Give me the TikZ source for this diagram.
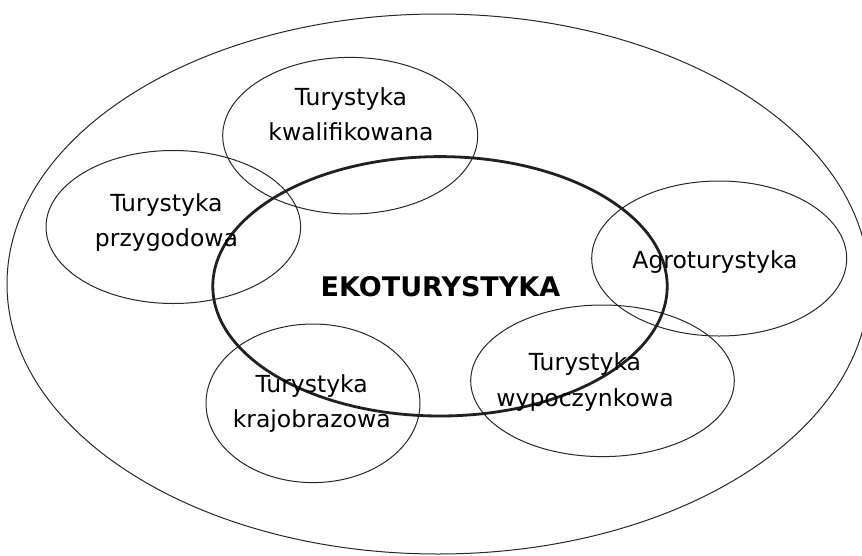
\documentclass[tikz,border=0pt]{standalone}
\usepackage{fontspec}
\setmainfont{DejaVu Sans}
\usetikzlibrary{shapes.geometric}
\definecolor{thickcol}{RGB}{35,31,32}
\definecolor{thincol}{RGB}{40,40,40}
\newcommand{\lstrut}{\rule[-6pt]{0pt}{26pt}}
\begin{document}
\begin{tikzpicture}[x=1pt,y=-1pt,
  thinell/.style={draw=thincol, line width=1pt},
  thickell/.style={draw=thickcol, line width=2.8pt},
  lbl/.style={align=center, inner sep=0pt, font=\fontsize{23.5}{35.5}\selectfont},
  biglbl/.style={inner sep=0pt, font=\fontsize{27}{30}\selectfont\bfseries}]
\useasboundingbox (0,0) rectangle (862,555);
\clip (0,0) rectangle (862,555);
\fill[white] (0,0) rectangle (862,555);
% outer ellipse
\draw[thinell] (438,284) ellipse [x radius=431, y radius=270];
% small ellipses
\draw[thinell] (350.2,135.7) ellipse [x radius=127.5, y radius=78.3];
\draw[thinell] (173.3,227) ellipse [x radius=127.3, y radius=76.5];
\draw[thinell] (719.2,258.5) ellipse [x radius=127.5, y radius=77.5];
\draw[thinell] (313,403.3) ellipse [x radius=107, y radius=79.3];
\draw[thinell] (602.5,380.8) ellipse [x radius=131.8, y radius=75.8];
% central ellipse
\draw[thickell] (440,286.3) ellipse [x radius=227.2, y radius=129.7];
% labels
\node[lbl] (kw) at (351,115.8) {\lstrut Turystyka\\\lstrut kwalifikowana};
\node[lbl] (pr) at (166.5,222.2) {\lstrut Turystyka\\\lstrut przygodowa};
\node[lbl] (ag) at (715,261) {\lstrut Agroturystyka};
\node[lbl] (kr) at (311.7,403) {\lstrut Turystyka\\\lstrut krajobrazowa};
\node[lbl] (wy) at (585,381.7) {\lstrut Turystyka\\\lstrut wypoczynkowa};
\node[biglbl] (eko) at (440.5,289.7) {\lstrut EKOTURYSTYKA};
\end{tikzpicture}
\end{document}
